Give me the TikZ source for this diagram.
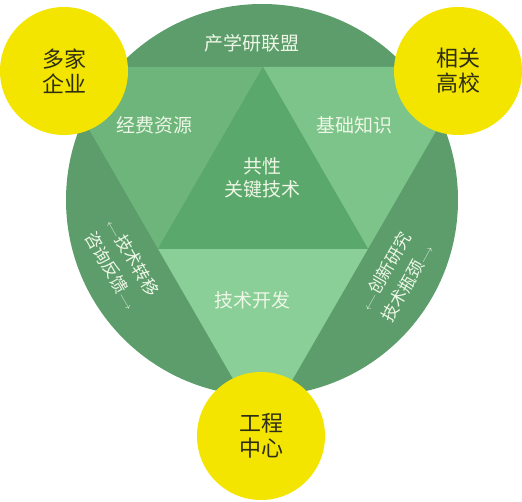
\documentclass[tikz,border=0pt]{standalone}
\usepackage{fontspec}
\newfontfamily\cjk{Noto Sans CJK SC}
\usetikzlibrary{calc,positioning}
\definecolor{ringgreen}{HTML}{5C9D6B}
\definecolor{fundgreen}{HTML}{6DB57B}
\definecolor{basegreen}{HTML}{7DC48B}
\definecolor{coregreen}{HTML}{5AA86B}
\definecolor{devgreen}{HTML}{8ACE98}
\definecolor{labelwhite}{HTML}{EEF7E6}
\definecolor{partneryellow}{HTML}{F3E500}
\definecolor{partnertext}{HTML}{2E2E14}

\begin{document}
\begin{tikzpicture}[x=1pt,y=-1pt,
  fieldtext/.style={text=labelwhite,font=\cjk\fontsize{19}{23}\selectfont,align=center,inner sep=0pt},
  sidetext/.style={fieldtext,font=\cjk\fontsize{17}{25}\selectfont},
  partner/.style={circle,fill=partneryellow,minimum size=128pt,inner sep=0pt,align=center,
    text=partnertext,font=\cjk\fontsize{22}{25}\selectfont}]
\useasboundingbox (0,0) rectangle (522,502);
\pgfmathsetmacro{\radius}{196}
\pgfmathsetmacro{\half}{210}
\coordinate (hub) at (262,200);
\coordinate (tl) at (263-\half,67);
\coordinate (tr) at (263+\half,67);
\coordinate (bt) at (263,67+\half*1.732);
\coordinate (mt) at ($(tl)!0.5!(tr)$);
\coordinate (ml) at ($(tl)!0.5!(bt)$);
\coordinate (mr) at ($(tr)!0.5!(bt)$);
% ring and triangles
\fill[ringgreen] (hub) circle[radius=\radius];
\begin{scope}
\clip (hub) circle[radius=\radius];
\fill[fundgreen] (tl) -- (mt) -- (ml) -- cycle;
\fill[basegreen] (mt) -- (tr) -- (mr) -- cycle;
\fill[devgreen] (ml) -- (mr) -- (bt) -- cycle;
\fill[coregreen] (mt) -- (mr) -- (ml) -- cycle;
\end{scope}
% labels
\node[fieldtext] (alliance) at (252,43) {产学研联盟};
\node[fieldtext] (funds) at (154,125) {经费资源};
\node[fieldtext] (basics) at (354,125) {基础知识};
\node[fieldtext] (core) at (262,178) {共性\\关键技术};
\node[fieldtext] (develop) at (252,300) {技术开发};
\node[sidetext,rotate=-60] (transfer) at (122,264)
  {{\fontsize{11}{11}\selectfont$\longleftarrow$}技术转移\\咨询反馈{\fontsize{11}{11}\selectfont$\longrightarrow$}};
\node[sidetext,rotate=60] (research) at (396,277)
  {{\fontsize{11}{11}\selectfont$\longleftarrow$}创新研究\\技术瓶颈{\fontsize{11}{11}\selectfont$\longrightarrow$}};
% partners
\node[partner] (firms) at (64,71) {多家\\企业};
\node[partner] (colleges) at (458,71) {相关\\高校};
\node[partner] (center) at (261,436) {工程\\中心};
\end{tikzpicture}
\end{document}
